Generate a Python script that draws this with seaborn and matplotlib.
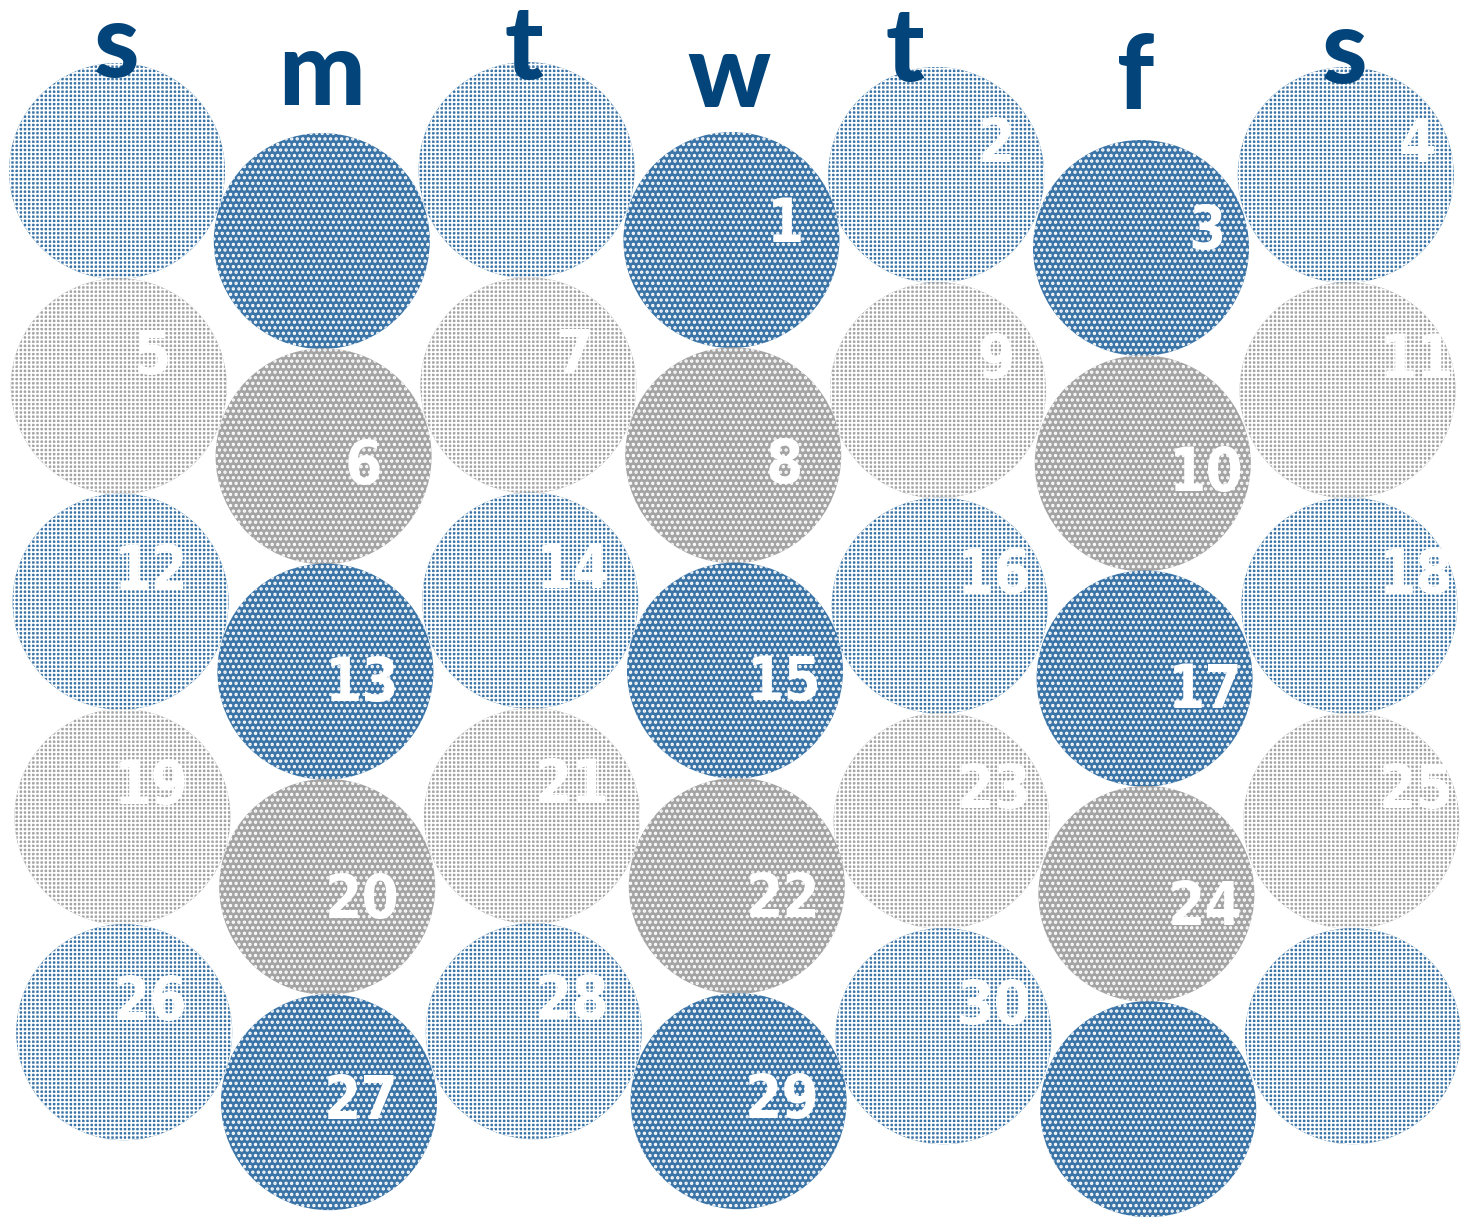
import matplotlib
matplotlib.use("Agg")
import matplotlib.pyplot as plt
import seaborn as sns
import pandas as pd

# ---- data ----
weekday_labels = ["s", "m", "t", "w", "t", "f", "s"]
days = [1, 2, 3, 4, 5, 6, 7, 8, 9, 10, 11, 12, 13, 14, 15,
        16, 17, 18, 19, 20, 21, 22, 23, 24, 25, 26, 27, 28, 29, 30]
first_weekday = 3          # day 1 falls on the 4th column (w)
n_weeks = 5
week_tones = ["blue", "gray", "blue", "gray", "blue"]

# ---- style ----
BLUE = "#3b74a7"
GRAY = "#a4a4a4"
NAVY = "#03457b"
palette = {"blue": BLUE, "gray": GRAY}

sns.set_theme(style="white")
plt.rcParams["font.family"] = ["Lato", "DejaVu Sans"]
plt.rcParams["hatch.color"] = "white"

W, H = 1469, 1217
fig = plt.figure(figsize=(W / 100, H / 100), dpi=100)
ax = fig.add_axes([0, 0, 1, 1])

# layout
col_x0, col_dx, row_xshift = 117, 204.8, 1.8
row_y0, row_dy, stagger = 171, 215.3, 70
col_y_nudge = [0, 0, -1, -1, 4, 7, 4]
letter_dx = [0, 0, -3, -2, -31, -5, -1]

rows = []
for w in range(n_weeks):
    for c in range(7):
        x = col_x0 + col_dx * c + row_xshift * w
        y = row_y0 + row_dy * w + stagger * (c % 2) + col_y_nudge[c]
        d = w * 7 + c - first_weekday + 1
        rows.append(dict(week=w, col=c, x=x, y=y, tone=week_tones[w],
                         pattern="dots" if c % 2 else "check",
                         day=d if d in days else None))
df = pd.DataFrame(rows)

diam_pt = 216 * 72 / 100
S = diam_pt ** 2

for pat, hatch, hlw in [("check", "++++", 1.2), ("dots", "...", 1.6)]:
    plt.rcParams["hatch.linewidth"] = hlw
    sub = df[df.pattern == pat]
    sns.scatterplot(data=sub, x="x", y="y", hue="tone", palette=palette,
                    s=S, marker="o", linewidth=0, edgecolor="white",
                    legend=False, ax=ax, zorder=1)
    coll = ax.collections[-1]
    coll.set_hatch(hatch)
    coll.set_edgecolor("white")
    coll.set_linewidth(0)
    if hasattr(coll, "set_hatch_linewidth"):
        coll.set_hatch_linewidth(hlw)

ax.set_xlim(0, W)
ax.set_ylim(H, 0)
ax.axis("off")

# day numbers
dy_even_week = [-15, 11, 13, 15, 0]
for _, r in df.dropna(subset=["day"]).iterrows():
    c, w = r.col, r.week
    dx = 36 + 6 * c - 2.5 * w
    dy = -29 if c % 2 == 0 else dy_even_week[w]
    ax.text(r.x + dx, r.y + dy, str(int(r.day)), color="white",
            fontsize=43, fontweight="bold", fontstretch="condensed",
            family=["DejaVu Sans"], ha="center", va="center", zorder=3)

# weekday letters
for c, lab in enumerate(weekday_labels):
    x = col_x0 + col_dx * c + letter_dx[c]
    base = 77 + 27 * (c % 2) + c
    ax.text(x, base, lab, color=NAVY, fontsize=74, fontweight="black",
            ha="center", va="baseline", zorder=4)

fig.savefig("out.png", dpi=100)
